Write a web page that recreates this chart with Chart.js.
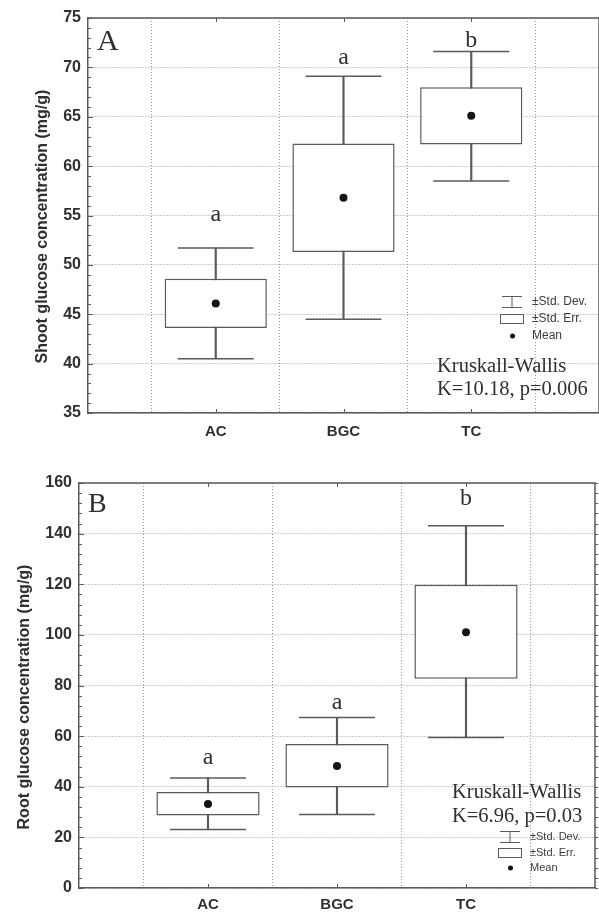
<!DOCTYPE html>
<html>
<head>
<meta charset="utf-8">
<script src="https://cdn.jsdelivr.net/npm/chart.js@4.4.0/dist/chart.umd.min.js"></script>
<style>
  html, body { margin: 0; padding: 0; background: #fff; }
  #wrap { position: relative; width: 599px; height: 914px; overflow: hidden; }
  canvas { position: absolute; left: 0; }
  #shoot { top: 0; }
  #root  { top: 455px; }
</style>
</head>
<body>
<div id="wrap">
  <canvas id="shoot" width="599" height="455"></canvas>
  <canvas id="root" width="599" height="459"></canvas>
</div>
<script>
/* ── Data ─────────────────────────────────────── */
const groups   = ['AC', 'BGC', 'TC'];
const groupPos = [1, 2, 3];

const shootTicks    = [35, 40, 45, 50, 55, 60, 65, 70, 75];
const shootMean     = [46.1, 56.8, 65.1];
const shootErrLo    = [43.6, 51.3, 62.2];
const shootErrHi    = [48.6, 62.3, 68.0];
const shootDevLo    = [40.5, 44.5, 58.5];
const shootDevHi    = [51.7, 69.1, 71.6];
const shootLetters  = ['a', 'a', 'b'];
const shootLetterAt = [54.4, 70.3, 72.1];

const rootTicks    = [0, 20, 40, 60, 80, 100, 120, 140, 160];
const rootMean     = [33.2, 48.2, 101.0];
const rootErrLo    = [28.6, 39.7, 82.7];
const rootErrHi    = [37.9, 56.9, 119.8];
const rootDevLo    = [23.1, 29.0, 59.5];
const rootDevHi    = [43.5, 67.4, 143.1];
const rootLetters  = ['a', 'a', 'b'];
const rootLetterAt = [48.9, 70.7, 151.4];

/* ── Look ─────────────────────────────────────── */
const C_LINE = '#5a5a5a';
const C_TEXT = '#2f2f2f';
const C_GRID = '#999999';
const C_DOT  = '#141414';
const SANS   = "'Liberation Sans', Arial, sans-serif";
const SERIF  = "'Liberation Serif', 'Times New Roman', serif";

/* ── Extra drawing: frame, minor ticks, text ──── */
const decor = {
  id: 'decor',
  afterDraw(chart, args, o) {
    const { ctx, chartArea: a, scales: { x, y } } = chart;
    ctx.save();

    // top and right edges of the frame
    ctx.strokeStyle = C_LINE;
    ctx.lineWidth = 1.5;
    ctx.beginPath();
    ctx.moveTo(a.left, a.top);
    ctx.lineTo(a.right, a.top);
    ctx.lineTo(a.right, a.bottom);
    ctx.stroke();

    // minor ticks on the value axis
    const step = (o.ticks[1] - o.ticks[0]) / 5;
    const lo = o.ticks[0], hi = o.ticks[o.ticks.length - 1];
    ctx.lineWidth = 1;
    ctx.beginPath();
    for (let v = lo; v <= hi + 1e-9; v += step) {
      const py = Math.round(y.getPixelForValue(v)) + 0.5;
      const k = (v - lo) / (step * 5);
      const len = Math.abs(k - Math.round(k)) < 1e-6 ? 5 : 3;
      ctx.moveTo(a.left, py);  ctx.lineTo(a.left + len, py);
      ctx.moveTo(a.right, py); ctx.lineTo(a.right + 3, py);
    }
    groupPos.forEach(g => {
      const px = Math.round(x.getPixelForValue(g)) + 0.5;
      ctx.moveTo(px, a.top);    ctx.lineTo(px, a.top + 4);
      ctx.moveTo(px, a.bottom); ctx.lineTo(px, a.bottom - 4);
    });
    ctx.stroke();

    // significance letters
    ctx.fillStyle = C_TEXT;
    ctx.font = '24px ' + SERIF;
    ctx.textAlign = 'center';
    ctx.textBaseline = 'alphabetic';
    o.letters.forEach((t, i) => {
      ctx.fillText(t, x.getPixelForValue(groupPos[i]), y.getPixelForValue(o.letterAt[i]));
    });

    // panel letter
    ctx.textAlign = 'left';
    ctx.font = o.panelSize + 'px ' + SERIF;
    ctx.fillText(o.panel, a.left + 9, a.top + o.panelDy);

    // Kruskall-Wallis note
    ctx.font = '20.5px ' + SERIF;
    o.kw.forEach((t, i) => ctx.fillText(t, a.right + o.kwDx, a.bottom + o.kwDy[i]));

    // y title
    ctx.save();
    ctx.translate(o.titleX, (a.top + a.bottom) / 2 + o.titleShift);
    ctx.rotate(-Math.PI / 2);
    ctx.textAlign = 'center';
    ctx.textBaseline = 'middle';
    ctx.font = 'bold 16px ' + SANS;
    ctx.fillText(o.title, 0, 0);
    ctx.restore();

    // legend
    const lx = a.right + o.legDx;
    const [r1, r2, r3] = o.legDy.map(d => a.bottom + d);
    ctx.strokeStyle = C_LINE;
    ctx.lineWidth = 1;
    ctx.beginPath();
    ctx.moveTo(lx - 30, r1 - 5.5); ctx.lineTo(lx - 10, r1 - 5.5);
    ctx.moveTo(lx - 30, r1 + 5.5); ctx.lineTo(lx - 10, r1 + 5.5);
    ctx.moveTo(lx - 20, r1 - 5.5); ctx.lineTo(lx - 20, r1 + 5.5);
    ctx.stroke();
    ctx.strokeRect(lx - 31.5, r2 - 4.5, 23, 9);
    ctx.fillStyle = C_DOT;
    ctx.beginPath();
    ctx.arc(lx - 19.5, r3, 2.5, 0, Math.PI * 2);
    ctx.fill();
    ctx.fillStyle = '#3c3c3c';
    ctx.font = o.legSize + 'px ' + SANS;
    ctx.textBaseline = 'middle';
    ctx.fillText('\u00B1Std. Dev.', lx, r1);
    ctx.fillText('\u00B1Std. Err.', lx, r2);
    ctx.fillText('Mean', lx, r3);

    ctx.restore();
  },
};

/* ── Chart builder ────────────────────────────── */
function buildChart(id, d, look) {
  const pts   = vals => vals.map((v, i) => ({ x: groupPos[i], y: v }));
  const spans = (lo, hi) => lo.map((v, i) => ({ x: groupPos[i], y: [v, hi[i]] }));
  const tickFont = { family: SANS, size: 16, weight: 'bold' };

  return new Chart(document.getElementById(id), {
    type: 'bar',
    data: {
      datasets: [
        {
          type: 'scatter', label: 'Mean', data: pts(d.mean), order: 1,
          pointRadius: 4, pointBackgroundColor: C_DOT, pointBorderWidth: 0,
        },
        {
          type: 'scatter', label: 'Caps', data: pts(d.devHi).concat(pts(d.devLo)), order: 2,
          pointStyle: 'line', pointRadius: 38, pointBorderColor: C_LINE, pointBorderWidth: 1.5,
        },
        {
          label: '±Std. Err.', data: spans(d.errLo, d.errHi), order: 3, grouped: false,
          categoryPercentage: 0.8, barPercentage: 1,
          backgroundColor: '#ffffff', borderColor: C_LINE, borderWidth: 1.5, borderSkipped: false,
        },
        {
          label: '±Std. Dev.', data: spans(d.devLo, d.devHi), order: 4, grouped: false,
          barThickness: 1.5, backgroundColor: C_LINE, borderWidth: 0,
        },
      ],
    },
    options: {
      responsive: false,
      animation: false,
      events: [],
      layout: {
        autoPadding: false,
        padding: { top: look.padTop, right: look.padRight, left: 0, bottom: 0 },
      },
      plugins: {
        legend: { display: false },
        tooltip: { enabled: false },
        decor: Object.assign({ ticks: d.ticks, letters: d.letters, letterAt: d.letterAt }, look),
      },
      scales: {
        x: {
          type: 'linear', min: 0, max: groupPos.length + 1, offset: false,
          ticks: {
            stepSize: 1, autoSkip: false, maxRotation: 0, padding: look.xPad,
            color: C_TEXT, font: { family: SANS, size: 15, weight: 'bold' },
            callback: v => groups[groupPos.indexOf(v)] || '',
          },
          grid: { color: C_GRID, lineWidth: 1, drawTicks: false },
          border: { display: true, color: C_LINE, width: 1.5, dash: [1, 2] },
          afterFit: s => { s.height = look.xHeight; s.paddingLeft = 0; s.paddingRight = 0; },
        },
        y: {
          min: d.ticks[0], max: d.ticks[d.ticks.length - 1],
          afterBuildTicks: s => { s.ticks = d.ticks.map(v => ({ value: v })); },
          ticks: { padding: 7, color: C_TEXT, font: tickFont },
          grid: { color: C_GRID, lineWidth: 1, drawTicks: false },
          border: { display: true, color: C_LINE, width: 1.5, dash: [1, 2] },
          afterFit: s => { s.width = look.yWidth; },
        },
      },
    },
    plugins: [decor],
  });
}

/* ── Init ─────────────────────────────────────── */
buildChart('shoot', {
  ticks: shootTicks, mean: shootMean, errLo: shootErrLo, errHi: shootErrHi,
  devLo: shootDevLo, devHi: shootDevHi, letters: shootLetters, letterAt: shootLetterAt,
}, {
  padTop: 18, padRight: 0, yWidth: 88, xHeight: 42, xPad: 10,
  title: 'Shoot glucose concentration (mg/g)', titleX: 43, titleShift: 11,
  panel: 'A', panelSize: 30, panelDy: 32,
  kw: ['Kruskall-Wallis', 'K=10.18, p=0.006'], kwDx: -162, kwDy: [-41.5, -18],
  legDx: -67, legDy: [-111, -94, -77], legSize: 12,
});

buildChart('root', {
  ticks: rootTicks, mean: rootMean, errLo: rootErrLo, errHi: rootErrHi,
  devLo: rootDevLo, devHi: rootDevHi, letters: rootLetters, letterAt: rootLetterAt,
}, {
  padTop: 28, padRight: 4, yWidth: 79, xHeight: 26, xPad: 8,
  title: 'Root glucose concentration (mg/g)', titleX: 25, titleShift: 11.5,
  panel: 'B', panelSize: 28, panelDy: 29,
  kw: ['Kruskall-Wallis', 'K=6.96, p=0.03'], kwDx: -143, kwDy: [-89.7, -66.3],
  legDx: -65, legDy: [-51, -35, -20], legSize: 11,
});
</script>
</body>
</html>
